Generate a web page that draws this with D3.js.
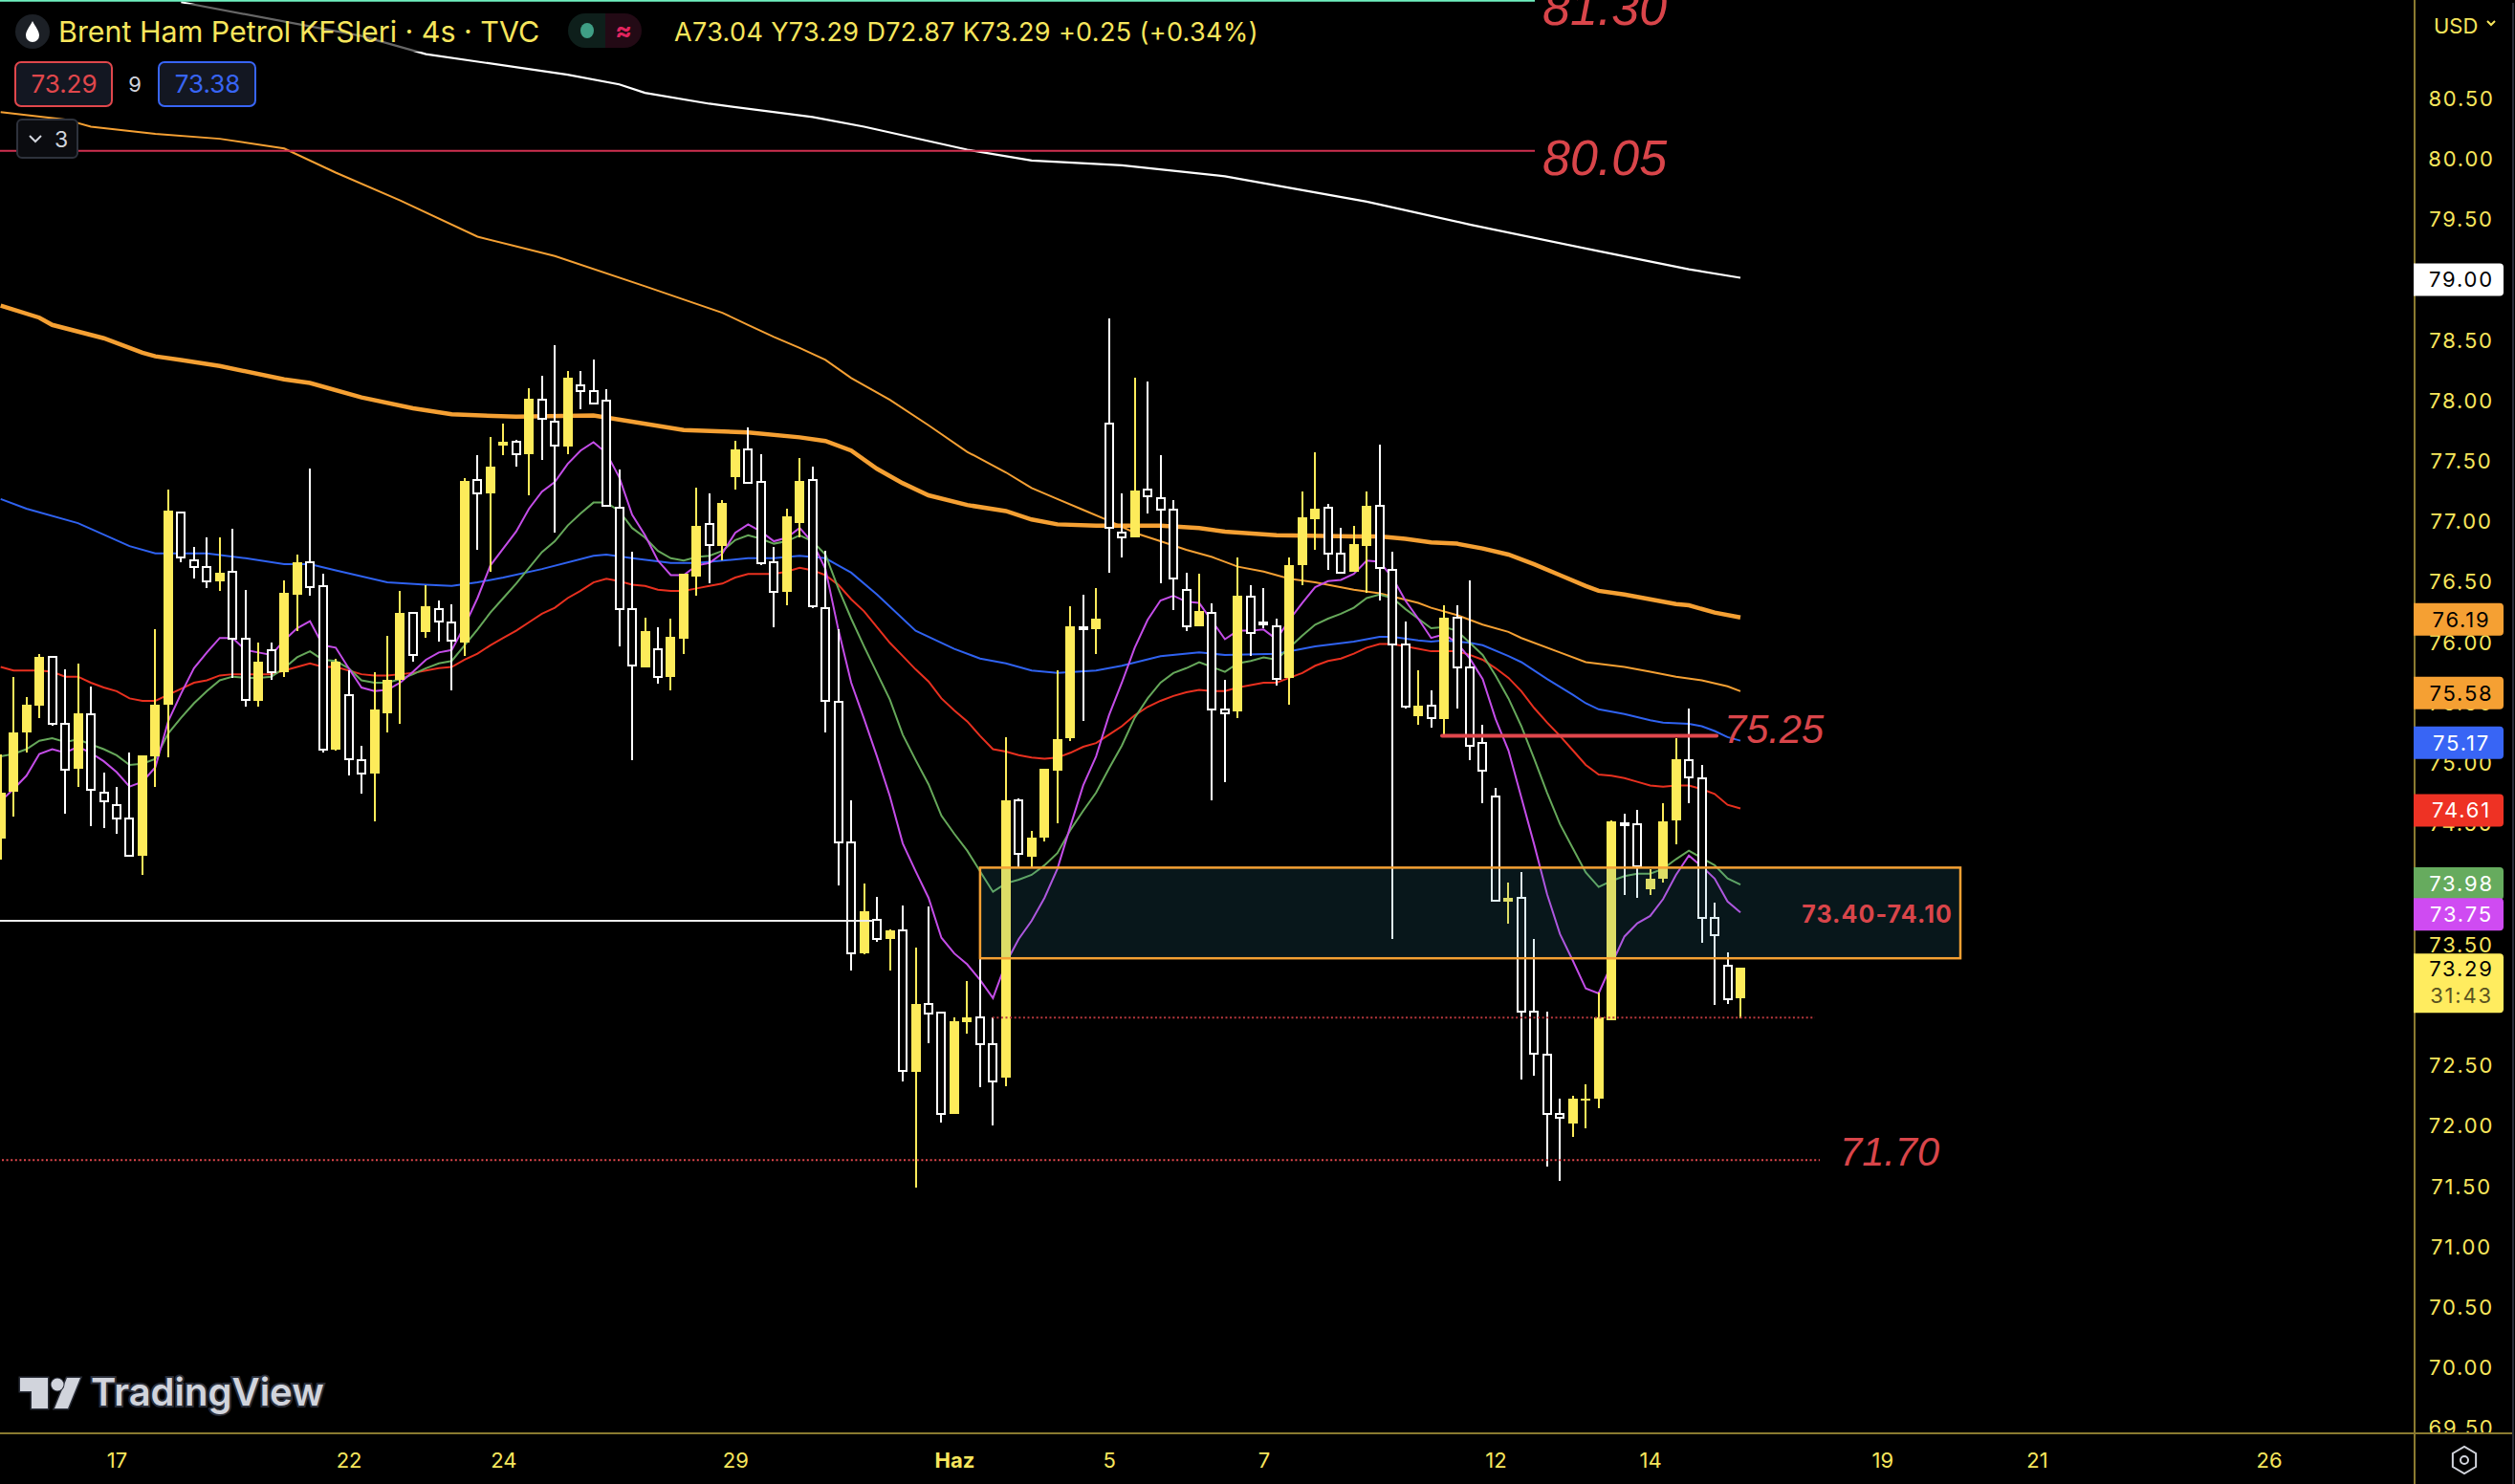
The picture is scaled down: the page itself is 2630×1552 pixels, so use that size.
<!DOCTYPE html>
<html>
<head>
<meta charset="utf-8">
<script src="https://cdn.jsdelivr.net/npm/d3@7"></script>
<style>
  html, body { margin: 0; padding: 0; background: #000; overflow: hidden; }
  svg { display: block; }
  text { font-family: Inter, "Liberation Sans", sans-serif; }
</style>
</head>
<body>
<svg width="2630" height="1552"></svg>
<script>
// candles, 4 hour bars, oldest first
var opens = [74.36,74.75,75.24,75.46,75.86,75.31,74.94,75.39,74.74,74.64,74.53,74.22,75.04,75.47,77.06,76.66,76.61,76.49,76.57,76.01,75.50,75.92,75.74,76.38,76.65,76.45,75.10,75.55,75.01,74.90,75.40,75.67,76.23,76.07,76.26,76.15,75.98,77.33,77.22,77.61,77.64,77.54,77.99,77.81,77.60,78.11,78.06,77.98,77.10,76.26,75.78,75.93,75.70,76.01,76.53,76.96,76.78,77.35,77.58,77.31,76.65,76.40,76.97,77.33,76.27,75.49,74.33,73.41,73.69,73.53,73.60,72.43,72.99,72.92,72.08,72.84,72.88,72.66,72.38,74.68,74.21,74.37,74.92,75.19,76.11,76.09,77.79,76.89,76.85,77.25,77.18,77.08,76.42,76.12,76.23,75.43,75.41,76.36,76.15,76.12,75.69,76.62,77.00,77.10,76.72,76.57,76.78,77.11,76.58,75.97,75.37,75.46,75.35,76.19,75.78,75.15,74.71,73.84,73.87,72.93,72.57,72.08,72.00,72.20,72.21,72.86,74.49,74.48,73.94,74.03,74.51,75.01,74.86,73.70,73.31,73.04];
var highs = [75.06,75.70,75.53,75.89,75.86,75.76,75.81,75.62,74.91,74.79,75.07,75.05,76.09,77.25,77.06,76.77,76.85,76.85,76.92,76.42,75.98,75.98,76.50,76.71,77.42,76.55,75.85,75.75,75.13,75.74,76.04,76.41,76.23,76.46,76.33,76.30,77.34,77.53,77.68,77.79,77.66,78.09,78.19,78.44,78.23,78.23,78.32,78.08,77.41,76.73,76.19,76.11,76.18,76.55,77.26,77.22,77.16,77.65,77.76,77.54,76.77,77.09,77.51,77.44,76.74,76.09,74.68,73.99,73.88,73.61,73.81,73.46,73.80,72.93,72.88,73.18,73.36,72.88,75.20,74.69,74.42,74.94,75.75,76.28,76.38,76.43,78.66,77.22,78.17,78.14,77.53,77.16,76.56,76.55,76.31,75.67,76.69,76.46,76.43,76.18,76.69,77.23,77.56,77.13,76.93,76.95,77.23,77.62,76.73,76.16,75.75,75.59,76.29,76.29,76.50,75.30,74.78,74.00,74.08,73.53,72.93,72.21,72.23,72.33,73.09,74.51,74.57,74.60,74.11,74.65,75.19,75.44,74.97,73.83,73.42,73.29];
var lows = [74.19,74.54,75.07,75.36,75.29,74.57,74.79,74.46,74.45,74.40,74.22,74.06,74.79,75.03,76.65,76.51,76.43,76.41,75.69,75.45,75.45,75.67,75.70,76.08,76.37,75.07,75.09,74.88,74.73,74.50,75.24,75.31,75.82,76.02,75.99,75.59,75.87,76.75,76.57,77.53,77.44,77.20,77.49,76.89,77.54,77.91,77.96,77.11,75.95,75.01,75.78,75.64,75.59,75.89,76.37,76.47,76.66,77.25,77.30,76.62,76.11,76.29,76.85,76.27,75.24,73.97,73.27,73.40,73.51,73.27,72.35,71.47,72.67,72.01,72.08,72.75,72.30,71.99,72.31,74.12,74.12,74.34,74.49,75.17,75.33,75.89,76.56,76.69,76.85,77.05,76.47,76.25,76.08,76.12,74.68,74.83,75.36,75.87,76.10,75.63,75.47,76.46,76.75,76.58,76.56,76.57,76.39,76.33,73.53,75.44,75.30,75.28,75.21,75.44,75.01,74.65,73.84,73.66,72.37,72.40,71.65,71.53,71.89,71.96,72.13,72.86,73.89,73.87,73.89,74.00,74.31,74.65,73.50,72.98,72.99,72.87];
var closes = [74.74,75.24,75.47,75.86,75.31,74.93,75.40,74.76,74.67,74.53,74.22,75.05,75.47,77.07,76.69,76.61,76.49,76.56,76.01,75.51,75.82,75.74,76.39,76.65,76.44,75.10,75.82,75.02,74.90,75.43,75.67,76.23,75.88,76.28,76.16,76.00,77.32,77.22,77.44,77.64,77.54,78.00,77.83,77.61,78.17,78.06,77.96,77.11,76.26,75.79,76.08,75.70,76.03,76.55,76.95,76.79,77.14,77.58,77.30,76.64,76.40,77.03,77.32,76.28,75.50,74.33,73.41,73.76,73.53,73.60,72.44,72.99,72.91,72.08,72.85,72.88,72.66,72.35,74.68,74.23,74.37,74.94,75.18,76.12,76.10,76.18,76.93,76.85,77.24,77.19,77.08,76.51,76.12,76.24,75.43,75.40,76.37,76.06,76.13,75.68,76.62,77.02,77.09,76.72,76.56,76.80,77.11,76.60,75.97,75.45,75.46,75.36,76.19,75.78,75.13,74.92,73.85,73.87,72.93,72.58,72.08,72.05,72.21,72.21,72.88,74.50,74.47,74.13,74.03,74.50,75.02,74.87,73.70,73.56,73.03,73.29];

// fast averages, one value per candle
var maPurple = [74.67,74.77,74.88,75.06,75.10,75.07,75.12,75.07,75.00,74.91,74.79,74.83,74.95,75.33,75.56,75.77,75.90,76.02,76.02,75.92,75.90,75.88,76.00,76.10,76.16,75.96,75.94,75.77,75.61,75.58,75.59,75.65,75.74,75.84,75.90,75.92,76.12,76.35,76.62,76.76,76.90,77.09,77.23,77.31,77.46,77.57,77.64,77.55,77.35,77.04,76.87,76.66,76.54,76.54,76.62,76.64,76.72,76.89,76.96,76.90,76.82,76.85,76.93,76.81,76.59,76.09,75.65,75.35,75.04,74.71,74.32,74.09,73.87,73.54,73.41,73.32,73.19,73.04,73.33,73.53,73.68,73.87,74.11,74.46,74.80,75.04,75.38,75.65,75.94,76.17,76.33,76.37,76.32,76.31,76.16,76.01,76.08,76.08,76.09,76.01,76.17,76.31,76.44,76.49,76.50,76.55,76.66,76.65,76.52,76.33,76.18,76.02,76.05,75.98,75.85,75.68,75.35,75.09,74.70,74.31,73.90,73.57,73.35,73.12,73.08,73.32,73.55,73.66,73.72,73.86,74.06,74.22,74.13,74.03,73.84,73.75];
var maGreen = [75.04,75.06,75.10,75.17,75.19,75.16,75.18,75.14,75.10,75.05,74.97,74.98,75.02,75.23,75.36,75.48,75.58,75.67,75.70,75.69,75.69,75.70,75.77,75.86,75.91,75.84,75.83,75.77,75.67,75.65,75.65,75.68,75.72,75.77,75.81,75.83,75.96,76.09,76.23,76.35,76.47,76.60,76.73,76.82,76.95,77.05,77.14,77.14,77.07,76.93,76.85,76.74,76.68,76.66,76.69,76.70,76.74,76.83,76.87,76.84,76.80,76.82,76.87,76.82,76.71,76.43,76.18,75.95,75.73,75.51,75.22,75.01,74.81,74.55,74.40,74.26,74.09,73.92,73.99,74.02,74.06,74.14,74.24,74.43,74.59,74.74,74.94,75.13,75.36,75.52,75.65,75.73,75.77,75.82,75.78,75.74,75.81,75.83,75.86,75.84,75.94,76.04,76.13,76.18,76.22,76.27,76.35,76.38,76.35,76.26,76.18,76.10,76.11,76.08,75.98,75.88,75.71,75.52,75.29,75.02,74.74,74.48,74.28,74.08,73.96,74.01,74.05,74.07,74.07,74.11,74.19,74.26,74.20,74.14,74.03,73.98];
var maRed = [75.78,75.75,75.75,75.75,75.74,75.70,75.70,75.65,75.61,75.58,75.52,75.50,75.50,75.55,75.60,75.65,75.67,75.71,75.72,75.72,75.72,75.72,75.75,75.78,75.81,75.78,75.78,75.75,75.72,75.71,75.71,75.72,75.73,75.75,75.77,75.78,75.84,75.89,75.96,76.02,76.08,76.15,76.22,76.27,76.35,76.41,76.48,76.51,76.49,76.46,76.45,76.42,76.41,76.41,76.43,76.45,76.47,76.52,76.55,76.55,76.55,76.57,76.60,76.58,76.54,76.46,76.34,76.24,76.11,75.98,75.87,75.76,75.66,75.52,75.42,75.33,75.21,75.10,75.08,75.05,75.03,75.02,75.03,75.07,75.12,75.15,75.22,75.29,75.38,75.45,75.50,75.54,75.57,75.59,75.58,75.58,75.61,75.63,75.65,75.65,75.69,75.73,75.79,75.83,75.85,75.89,75.94,75.97,75.97,75.95,75.93,75.91,75.91,75.91,75.88,75.84,75.77,75.69,75.58,75.44,75.32,75.21,75.09,74.97,74.89,74.88,74.86,74.83,74.80,74.79,74.80,74.80,74.77,74.73,74.64,74.61];

// slow averages, read at the candle numbers given in the *At arrays
var maBlueAt = [0,2,6,10,12,16,19,22,24,26,30,33,35,37,39,42,46,47,49,52,54,56,58,60,62,63,64,65,66,68,71,74,76,78,80,82,85,87,90,93,95,99,102,105,107,108,110,111,112,114,115,117,118,120,122,123,124,126,128,129,131,132,133,134,135];
var maBlue = [77.17,77.09,76.97,76.78,76.72,76.72,76.68,76.63,76.63,76.58,76.48,76.46,76.45,76.48,76.52,76.59,76.70,76.71,76.68,76.64,76.64,76.66,76.68,76.68,76.70,76.69,76.68,76.62,76.56,76.38,76.08,75.93,75.85,75.81,75.75,75.73,75.75,75.79,75.87,75.90,75.88,75.89,75.95,75.99,76.03,76.03,76.00,75.99,76.00,75.98,75.96,75.87,75.82,75.68,75.55,75.48,75.43,75.39,75.34,75.32,75.31,75.29,75.25,75.20,75.17];
var maOrangeAt = [0,5,7,12,17,22,26,31,37,43,50,56,58,60,62,64,66,69,72,75,78,80,82,84,86,88,90,92,94,96,98,100,102,105,107,110,111,113,115,117,118,121,123,126,128,130,132,134,135];
var maOrange = [80.37,80.31,80.25,80.19,80.15,80.07,79.87,79.64,79.34,79.18,78.93,78.71,78.61,78.51,78.42,78.32,78.17,77.99,77.78,77.56,77.39,77.26,77.17,77.08,76.99,76.89,76.82,76.75,76.69,76.61,76.57,76.51,76.48,76.42,76.39,76.31,76.27,76.21,76.13,76.07,76.02,75.90,75.82,75.78,75.74,75.70,75.67,75.62,75.58];
var maThickAt = [0,3,4,8,11,12,14,17,22,24,28,32,35,40,46,49,53,58,62,64,66,68,70,72,75,78,80,82,85,90,93,95,99,105,107,109,111,113,115,117,119,121,123,124,126,130,131,133,135];
var maThick = [78.77,78.67,78.61,78.50,78.38,78.35,78.32,78.27,78.16,78.13,78.01,77.92,77.87,77.85,77.86,77.81,77.74,77.72,77.68,77.65,77.57,77.42,77.30,77.20,77.12,77.07,77.00,76.96,76.95,76.95,76.93,76.90,76.87,76.86,76.86,76.84,76.81,76.80,76.76,76.71,76.63,76.54,76.45,76.41,76.38,76.30,76.29,76.23,76.19];
var maWhiteAt = [14,28,33,44,48,50,55,63,67,75,80,87,95,106,114,124,131,135];
var maWhite = [81.28,81.00,80.85,80.68,80.60,80.53,80.44,80.33,80.25,80.06,79.97,79.93,79.84,79.63,79.44,79.22,79.07,79.00];

// axis labels
var priceTicks = [81,80.5,80,79.5,79,78.5,78,77.5,77,76.5,76,75.5,75,74.5,74,73.5,73,72.5,72,71.5,71,70.5,70,69.5];
var dateTicks = [9,27,39,57,74,86,98,116,128,146,158,176];
var dateLabels = ["17","22","24","29","Haz","5","7","12","14","19","21","26"];

// last value tags on the price scale
var tagPrices = [79.00,76.19,75.58,75.17,74.61,73.98,73.75];
var tagFills = ["#ffffff","#f5a033","#f5a033","#3865f5","#ee3224","#66ab5e","#cf4bf2"];
var tagInks = ["#000000","#000000","#000000","#ffffff","#ffffff","#ffffff","#ffffff"];
var tagNudges = [0,0,0,0,0,-3,0];

var colYellow = "#fdeb5a", colText = "#f7e65c", colAxis = "#8a7a30", colRed = "#d9454a", colOrange = "#f5a033";

var svg = d3.select("svg"),
    plotRight = 2525,
    plotBottom = 1499,
    axisCenter = 2574;

// price and bar scales
var x = d3.scaleLinear().domain([0, 135]).range([0.7, 1820]);
var y = d3.scaleLinear().domain([81.298, 69.44]).range([0, plotBottom]);

svg.append("defs").append("clipPath").attr("id", "plot")
  .append("rect").attr("width", plotRight).attr("height", plotBottom);
svg.select("defs").append("clipPath").attr("id", "scale")
  .append("rect").attr("x", plotRight).attr("y", 48).attr("width", 105).attr("height", plotBottom - 48);

var g = svg.append("g").attr("clip-path", "url(#plot)");

// moving averages go under the candles
var line = d3.line()
    .x(function(d) { return x(d[0]); })
    .y(function(d) { return y(d[1]); });

function everyBar(v) { return v.map(function(d, i) { return [i, d]; }); }
function atBars(at, v) { return v.map(function(d, i) { return [at[i], d]; }); }

var averages = [
  {pts: atBars(maWhiteAt, maWhite), col: "#ffffff", w: 2.2},
  {pts: atBars(maThickAt, maThick), col: colOrange, w: 4.5},
  {pts: atBars(maOrangeAt, maOrange), col: colOrange, w: 2},
  {pts: atBars(maBlueAt, maBlue), col: "#2f62f0", w: 2},
  {pts: everyBar(maRed), col: "#e8301f", w: 2},
  {pts: everyBar(maGreen), col: "#66a85a", w: 2},
  {pts: everyBar(maPurple), col: "#c44de8", w: 2}
];

g.selectAll(".ma")
  .data(averages)
  .enter().append("path")
    .attr("class", "ma")
    .attr("fill", "none")
    .attr("stroke", function(d) { return d.col; })
    .attr("stroke-width", function(d) { return d.w; })
    .attr("d", function(d) { return line(d.pts); });

// candles: yellow up, hollow white down
var bars = d3.range(opens.length).map(function(i) {
  return {i: i, o: opens[i], h: highs[i], l: lows[i], c: closes[i], up: closes[i] >= opens[i]};
});

var candle = g.selectAll(".candle")
  .data(bars)
  .enter().append("g")
    .attr("class", "candle")
    .attr("shape-rendering", "crispEdges")
    .attr("transform", function(d) { return "translate(" + Math.round(x(d.i)) + ",0)"; });

candle.append("line")
    .attr("y1", function(d) { return y(d.h); })
    .attr("y2", function(d) { return y(d.l); })
    .attr("stroke", function(d) { return d.up ? colYellow : "#fff"; })
    .attr("stroke-width", 2);

candle.append("rect")
    .attr("x", function(d) { return d.up ? -5 : -4; })
    .attr("width", function(d) { return d.up ? 10 : 8; })
    .attr("y", function(d) { return y(Math.max(d.o, d.c)); })
    .attr("height", function(d) { return Math.max(2, Math.abs(y(d.o) - y(d.c))); })
    .attr("fill", function(d) { return d.up ? colYellow : "#000"; })
    .attr("stroke", function(d) { return d.up ? "none" : "#fff"; })
    .attr("stroke-width", 2);

// hand drawn objects
var topLevel = 81.30, level8005 = 80.05, level7525 = 75.21, level7170 = 71.70, level7288 = 72.88, levelWhite = 73.68;
var zoneTop = 74.12, zoneBottom = 73.37;

g.append("line").attr("x1", 0).attr("x2", 1605)
    .attr("y1", y(topLevel)).attr("y2", y(topLevel))
    .attr("stroke", "#6ff0c0").attr("stroke-width", 4);
g.append("line").attr("x1", 0).attr("x2", 1605)
    .attr("y1", y(level8005)).attr("y2", y(level8005))
    .attr("stroke", "#d03050").attr("stroke-width", 2);
g.append("line").attr("x1", 0).attr("x2", x(67.7))
    .attr("y1", y(levelWhite)).attr("y2", y(levelWhite))
    .attr("stroke", "#ececec").attr("stroke-width", 2);
g.append("line").attr("x1", x(111.85)).attr("x2", x(133.15))
    .attr("y1", y(level7525)).attr("y2", y(level7525))
    .attr("stroke", "#e0474c").attr("stroke-width", 4).attr("stroke-linecap", "round");
g.append("line").attr("x1", 2).attr("x2", 1903)
    .attr("y1", y(level7170)).attr("y2", y(level7170))
    .attr("stroke", "#e0474c").attr("stroke-width", 2).attr("stroke-dasharray", "2,2.6");
g.append("line").attr("x1", x(76.95)).attr("x2", 1898)
    .attr("y1", y(level7288)).attr("y2", y(level7288))
    .attr("stroke", "#b8383e").attr("stroke-width", 2).attr("stroke-dasharray", "2,2.6");

g.append("rect")
    .attr("x", x(76)).attr("width", 2050 - x(76))
    .attr("y", y(zoneTop)).attr("height", y(zoneBottom) - y(zoneTop))
    .attr("fill", "rgb(51,146,172)").attr("fill-opacity", 0.157)
    .attr("stroke", colOrange).attr("stroke-width", 2.5);

g.append("text").attr("x", 2042).attr("y", 965)
    .attr("text-anchor", "end")
    .attr("font-size", 25).attr("font-weight", 700).attr("letter-spacing", 1.1)
    .attr("fill", colRed).text("73.40-74.10");

var notes = [
  {t: "81.30", x: 1613, y: 26, s: 52},
  {t: "80.05", x: 1613, y: 183, s: 52},
  {t: "75.25", x: 1803, y: 777, s: 41.6},
  {t: "71.70", x: 1924, y: 1219, s: 41.6}
];

g.selectAll(".note")
  .data(notes)
  .enter().append("text")
    .attr("class", "note")
    .attr("x", function(d) { return d.x; })
    .attr("y", function(d) { return d.y; })
    .attr("font-size", function(d) { return d.s; })
    .attr("font-style", "italic")
    .attr("fill", colRed)
    .style("font-family", "'Liberation Sans', sans-serif")
    .text(function(d) { return d.t; });

// price scale
svg.append("g")
    .attr("clip-path", "url(#scale)")
  .append("g")
    .attr("transform", "translate(" + axisCenter + ",0)")
    .call(d3.axisRight(y).tickValues(priceTicks).tickSize(0).tickPadding(0)
      .tickFormat(function(d) { return d.toFixed(2); }))
    .call(function(a) {
      a.select(".domain").remove();
      a.selectAll("text")
        .attr("x", 0).attr("dy", "0.43em").attr("text-anchor", "middle")
        .attr("font-size", 22).attr("letter-spacing", 1.8)
        .style("font-family", "Inter, sans-serif")
        .attr("fill", colText);
    });

// time scale
svg.append("g")
    .attr("transform", "translate(0," + plotBottom + ")")
    .call(d3.axisBottom(x).tickValues(dateTicks).tickSize(0).tickPadding(20)
      .tickFormat(function(d, i) { return dateLabels[i]; }))
    .call(function(a) {
      a.select(".domain").remove();
      a.selectAll("text")
        .attr("font-size", 22)
        .attr("font-weight", function(d, i) { return dateLabels[i] == "Haz" ? 700 : 400; })
        .style("font-family", "Inter, sans-serif")
        .attr("fill", colText);
    });

svg.append("line").attr("x1", plotRight).attr("x2", plotRight).attr("y1", 0).attr("y2", 1552)
    .attr("stroke", colAxis).attr("stroke-width", 2);
svg.append("line").attr("x1", 0).attr("x2", 2627).attr("y1", plotBottom).attr("y2", plotBottom)
    .attr("stroke", colAxis).attr("stroke-width", 2);
svg.append("line").attr("x1", 2628).attr("x2", 2628).attr("y1", 3).attr("y2", 1552)
    .attr("stroke", "#2a2e39").attr("stroke-width", 2);

svg.append("text").attr("x", 2545).attr("y", 35)
    .attr("font-size", 22).attr("fill", colText).text("USD");
svg.append("path").attr("d", "M2601,22l4,4l4,-4")
    .attr("fill", "none").attr("stroke", colText).attr("stroke-width", 2);

// price tags
var tag = svg.selectAll(".tag")
  .data(tagPrices)
  .enter().append("g")
    .attr("class", "tag")
    .attr("transform", function(d, i) { return "translate(2524," + (y(d) + 2 + tagNudges[i]) + ")"; });

tag.append("path")
    .attr("d", "M0,-17H90a4,4 0 0 1 4,4V13a4,4 0 0 1 -4,4H0Z")
    .attr("fill", function(d, i) { return tagFills[i]; });

tag.append("text")
    .attr("x", 50).attr("y", 8)
    .attr("text-anchor", "middle").attr("font-size", 22).attr("letter-spacing", 1.8)
    .attr("fill", function(d, i) { return tagInks[i]; })
    .text(function(d) { return d.toFixed(2); });

var lastPrice = closes[closes.length - 1];
var lastTag = svg.append("g").attr("transform", "translate(2524," + (y(lastPrice) + 2) + ")");
lastTag.append("path").attr("d", "M0,-17H90a4,4 0 0 1 4,4V41a4,4 0 0 1 -4,4H0Z").attr("fill", "#ffec5f");
lastTag.append("text").attr("x", 50).attr("y", 7).attr("text-anchor", "middle")
    .attr("font-size", 22).attr("letter-spacing", 1.8).attr("fill", "#000").text(lastPrice.toFixed(2));
lastTag.append("text").attr("x", 50).attr("y", 35).attr("text-anchor", "middle")
    .attr("font-size", 22).attr("letter-spacing", 1.8).attr("fill", "#5a5320").text("31:43");

// legend on the top left
svg.append("rect").attr("x", 0).attr("y", 4).attr("width", 570).attr("height", 50)
    .attr("fill", "#000").attr("opacity", 0.6);

svg.append("circle").attr("cx", 34).attr("cy", 33).attr("r", 18).attr("fill", "#1c2026");
svg.append("path").attr("d", "M34,22c3,6 7,10 7,15a7,7 0 0 1 -14,0c0,-5 4,-9 7,-15Z").attr("fill", "#fff");

svg.append("text").attr("x", 61).attr("y", 44)
    .attr("font-size", 30.4).attr("fill", colText)
    .text("Brent Ham Petrol KFSleri · 4s · TVC");

svg.append("path").attr("d", "M612,14a18,18 0 0 0 0,36h21V14Z").attr("fill", "#0e1f1b");
svg.append("path").attr("d", "M633,14h20a18,18 0 0 1 0,36h-20Z").attr("fill", "#230a15");
svg.append("ellipse").attr("cx", 614).attr("cy", 32).attr("rx", 7).attr("ry", 8).attr("fill", "#3f9e85");
svg.append("text").attr("x", 652).attr("y", 41).attr("text-anchor", "middle")
    .attr("font-size", 26).attr("font-weight", 700).attr("fill", "#e0245e").text("≈");

svg.append("text").attr("x", 705).attr("y", 43)
    .attr("font-size", 27).attr("letter-spacing", 0.35).attr("fill", colText)
    .text("A73.04  Y73.29  D72.87  K73.29  +0.25 (+0.34%)");

var quoteBoxes = [
  {t: "73.29", x: 15, col: "#e0474c"},
  {t: "73.38", x: 165, col: "#3865f5"}
];

svg.selectAll(".quote")
  .data(quoteBoxes)
  .enter().append("rect")
    .attr("class", "quote")
    .attr("x", function(d) { return d.x + 1; })
    .attr("y", 65).attr("width", 101).attr("height", 46).attr("rx", 6)
    .attr("fill", "#131722").attr("stroke-width", 2)
    .attr("stroke", function(d) { return d.col; });

svg.selectAll(".quoteText")
  .data(quoteBoxes)
  .enter().append("text")
    .attr("class", "quoteText")
    .attr("x", function(d) { return d.x + 52; })
    .attr("y", 97).attr("text-anchor", "middle").attr("font-size", 26)
    .attr("fill", function(d) { return d.col; })
    .text(function(d) { return d.t; });

svg.append("text").attr("x", 141).attr("y", 96).attr("text-anchor", "middle")
    .attr("font-size", 22).attr("fill", "#d1d4dc").text("9");

svg.append("rect").attr("x", 18).attr("y", 125).attr("width", 63).attr("height", 40).attr("rx", 5)
    .attr("fill", "#0b0c10").attr("stroke", "#2e323c").attr("stroke-width", 2);
svg.append("path").attr("d", "M31,142l6,6l6,-6")
    .attr("fill", "none").attr("stroke", "#d1d4dc").attr("stroke-width", 2);
svg.append("text").attr("x", 64).attr("y", 154).attr("text-anchor", "middle")
    .attr("font-size", 23).attr("fill", "#d1d4dc").text("3");

// watermark
var mark = svg.append("g");
mark.append("path")
    .attr("d", "M21,1441H50V1473H33V1455H21Z M70,1441H84L71,1473H57Z")
    .attr("fill", "#d1d4dc").attr("stroke", "#2a2e39").attr("stroke-width", 3)
    .attr("paint-order", "stroke");
mark.append("circle").attr("cx", 60).attr("cy", 1448).attr("r", 6.5)
    .attr("fill", "#d1d4dc").attr("stroke", "#2a2e39").attr("stroke-width", 2)
    .attr("paint-order", "stroke");
mark.append("text").attr("x", 95).attr("y", 1470)
    .attr("font-size", 40).attr("font-weight", 600)
    .attr("fill", "#d1d4dc").attr("stroke", "#2a2e39").attr("stroke-width", 4)
    .attr("paint-order", "stroke")
    .text("TradingView");

// settings button
var gear = svg.append("g").attr("transform", "translate(2577,1527)");
gear.append("path")
    .attr("d", d3.line()(d3.range(6).map(function(i) {
      var a = Math.PI / 3 * i + Math.PI / 6;
      return [14 * Math.cos(a), 14 * Math.sin(a)];
    })) + "Z")
    .attr("fill", "none").attr("stroke", "#d1d4dc").attr("stroke-width", 2);
gear.append("circle").attr("r", 4).attr("fill", "none").attr("stroke", "#d1d4dc").attr("stroke-width", 2);
</script>
</body>
</html>
